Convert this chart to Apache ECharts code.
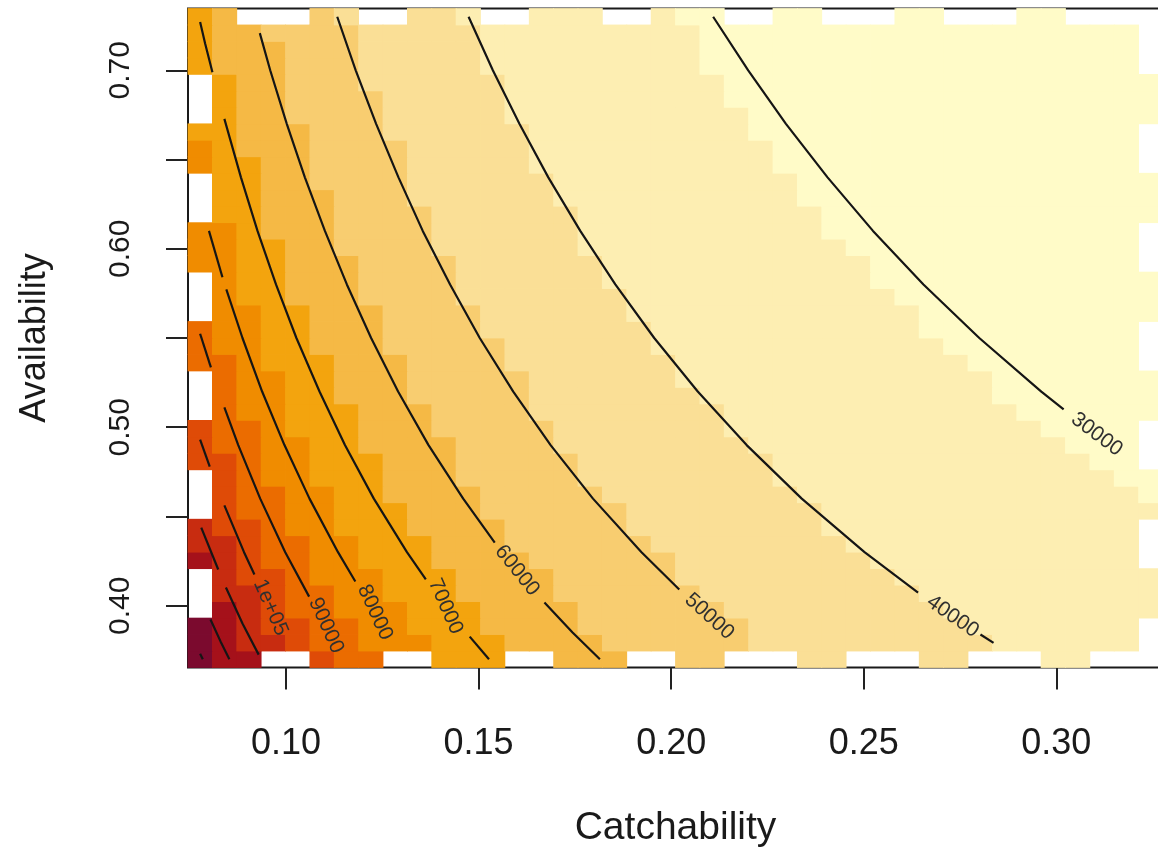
<!DOCTYPE html>
<html>
<head>
<meta charset="utf-8">
<script src="https://cdn.jsdelivr.net/npm/echarts@6/dist/echarts.min.js"></script>
<style>html,body{margin:0;padding:0;background:#ffffff}#chart{width:1158px;height:848px}</style>
</head>
<body>
<div id="chart"></div>
<script>
// ---- grid of the image (cell centres) ----
const catchability = [0.07772,0.08405,0.09038,0.09671,0.10303,0.10936,0.11569,0.12202,0.12835,0.13468,
  0.14100,0.14733,0.15366,0.15999,0.16632,0.17265,0.17897,0.18530,0.19163,0.19796,
  0.20429,0.21062,0.21694,0.22327,0.22960,0.23593,0.24226,0.24859,0.25492,0.26124,
  0.26757,0.27390,0.28023,0.28656,0.29289,0.29921,0.30554,0.31187,0.31820,0.32453];
const availability = [0.37,0.37923,0.38846,0.39769,0.40692,0.41615,0.42538,0.43462,0.44385,0.45308,
  0.46231,0.47154,0.48077,0.49,0.49923,0.50846,0.51769,0.52692,0.53615,0.54538,
  0.55462,0.56385,0.57308,0.58231,0.59154,0.60077,0.61,0.61923,0.62846,0.63769,
  0.64692,0.65615,0.66538,0.67462,0.68385,0.69308,0.70231,0.71154,0.72077,0.73];

// colour classes, lightest (0) to darkest (11)
const classColors = ['#FFFBC8','#FDEEB2','#FADF96','#F8CD70','#F5B945','#F3A40E',
  '#F08C00','#EB6C00','#DF4B07','#C82C10','#A5111A','#7B0A2E'];

// per availability row (bottom to top): number of cells from the left that are in class >= k, k = 1..11
const classBreaks = [
  [40,34,24,18,13,10,8,6,4,3,1],[40,33,23,17,13,10,7,5,4,2,1],[40,32,23,16,12,9,7,5,3,2,1],
  [40,31,22,16,12,9,6,4,3,2,1],[40,30,21,15,11,8,6,4,3,1,0],[40,29,20,15,11,8,5,4,2,1,0],
  [40,28,20,14,10,7,5,3,2,1,0],[40,27,19,13,10,7,5,3,2,0,0],[40,26,18,13,9,6,4,3,1,0,0],
  [40,26,18,12,9,6,4,2,1,0,0],[39,25,17,12,8,6,4,2,1,0,0],[38,24,16,11,8,5,3,2,1,0,0],
  [37,24,16,11,8,5,3,2,0,0,0],[36,23,15,11,7,5,3,1,0,0,0],[35,22,15,10,7,4,3,1,0,0,0],
  [34,22,14,10,7,4,2,1,0,0,0],[33,21,14,9,6,4,2,1,0,0,0],[33,20,14,9,6,4,2,0,0,0,0],
  [32,20,13,9,6,3,2,0,0,0,0],[31,19,13,8,5,3,1,0,0,0,0],[30,19,12,8,5,3,1,0,0,0,0],
  [30,18,12,8,5,3,1,0,0,0,0],[29,18,11,7,4,2,1,0,0,0,0],[28,17,11,7,4,2,1,0,0,0,0],
  [28,17,11,7,4,2,0,0,0,0,0],[27,16,10,6,4,2,0,0,0,0,0],[26,16,10,6,3,2,0,0,0,0,0],
  [26,16,10,6,3,1,0,0,0,0,0],[25,15,9,6,3,1,0,0,0,0,0],[25,15,9,5,3,1,0,0,0,0,0],
  [24,14,9,5,3,1,0,0,0,0,0],[24,14,9,5,2,1,0,0,0,0,0],[23,14,8,5,2,0,0,0,0,0,0],
  [23,13,8,4,2,0,0,0,0,0,0],[22,13,8,4,2,0,0,0,0,0,0],[22,13,7,4,2,0,0,0,0,0,0],
  [21,12,7,4,1,0,0,0,0,0,0],[21,12,7,4,1,0,0,0,0,0,0],[21,12,7,3,1,0,0,0,0,0,0],
  [20,11,6,3,1,0,0,0,0,0,0]];

// missing (NA) cells on the border: '1' = drawn, '0' = missing
const bottomRowCells = '1110011100111001110011000110001100011000';
const topRowCells    = '1100011001110011100111001100011000110000';
const leftColCells   = '1110001110001110001110001110001110001111';
const rightColCells  = '0001110001110001110001110001110001110000';

// ---- contour lines: [catchability, availability] points, one array per visible piece ----
const contour30000 = [[[0.2109,0.73],[0.2200,0.70],[0.2298,0.67],[0.2406,0.64],[0.2524,0.61],[0.2655,0.58],[0.2800,0.55],[0.2961,0.52],[0.3019,0.51]]];
const contour40000 = [[[0.1474,0.73],[0.1537,0.70],[0.1606,0.67],[0.1681,0.64],[0.1764,0.61],[0.1855,0.58],[0.1956,0.55],[0.2069,0.52],[0.2196,0.49],[0.2339,0.46],[0.2502,0.43],[0.2641,0.4074]],
  [[0.2803,0.3839],[0.2837,0.3792]]];
const contour50000 = [[[0.1133,0.73],[0.1181,0.70],[0.1234,0.67],[0.1292,0.64],[0.1355,0.61],[0.1426,0.58],[0.1503,0.55],[0.1590,0.52],[0.1687,0.49],[0.1797,0.46],[0.1923,0.43],[0.2021,0.4091]]];
const contour60000 = [[[0.0932,0.7208],[0.0959,0.70],[0.1002,0.67],[0.1049,0.64],[0.1101,0.61],[0.1158,0.58],[0.1221,0.55],[0.1291,0.52],[0.1370,0.49],[0.1460,0.46],[0.1542,0.4354]],
  [[0.1671,0.4018],[0.1744,0.385],[0.1815,0.37]]];
const contour70000 = [[[0.0777,0.7271],[0.0790,0.715],[0.0809,0.6989]],
  [[0.0840,0.6728],[0.0883,0.64],[0.0926,0.61],[0.0974,0.58],[0.1027,0.55],[0.1087,0.52],[0.1153,0.49],[0.1228,0.46],[0.1314,0.43],[0.1363,0.4147]],
  [[0.1477,0.3827],[0.1527,0.37]]];
const contour80000 = [[[0.0800,0.61],[0.0835,0.584]],
  [[0.0845,0.5772],[0.0887,0.55],[0.0938,0.52],[0.0996,0.49],[0.1061,0.46],[0.1135,0.43],[0.1180,0.4136]]];
const contour90000 = [[[0.0777,0.5524],[0.0805,0.5335]],
  [[0.0840,0.5111],[0.0876,0.49],[0.0933,0.46],[0.0998,0.43],[0.1060,0.4051]]];
const contour100000 = [[[0.0777,0.4931],[0.0802,0.478]],
  [[0.0840,0.4562],[0.0891,0.43],[0.0918,0.4175]]];
const contour110000 = [[[0.0780,0.4438],[0.0824,0.4203]],
  [[0.0844,0.4102],[0.0887,0.39],[0.0929,0.3726]]];
const contour120000 = [[[0.0804,0.3923],[0.0830,0.38],[0.0853,0.37]]];
const contour130000 = [[[0.0777,0.3731],[0.0784,0.37]]];

// contour labels: text and centre position
const labelText = ['30000','40000','50000','60000','70000','80000','90000','1e+05'];
const labelQ    = [0.3105,0.2731,0.2099,0.1600,0.1414,0.1231,0.1104,0.0960];
const labelA    = [0.4960,0.3940,0.3940,0.4197,0.3996,0.3962,0.3889,0.3990];
const labelOf   = [contour30000,contour40000,contour50000,contour60000,contour70000,contour80000,contour90000,contour100000];

// axes
const xTicks = [0.10,0.15,0.20,0.25,0.30];
const yTicks = [0.40,0.45,0.50,0.55,0.60,0.65,0.70];
const yLabelValues = [0.40,0.50,0.60,0.70];

// ---------------------------------------------------------------
function edges(c){
  const e=[c[0]-(c[1]-c[0])/2];
  for(let i=1;i<c.length;i++) e.push((c[i-1]+c[i])/2);
  e.push(c[c.length-1]+(c[c.length-1]-c[c.length-2])/2);
  return e;
}
const xe = edges(catchability), ye = edges(availability);
const nX = catchability.length, nY = availability.length;

const cells = [];
for (let r=0;r<nY;r++){
  for (let c=0;c<nX;c++){
    if (r===0 && bottomRowCells[c]==='0') continue;
    if (r===nY-1 && topRowCells[c]==='0') continue;
    if (c===0 && leftColCells[r]==='0') continue;
    if (c===nX-1 && rightColCells[r]==='0') continue;
    let lev=0;
    for (let k=0;k<classBreaks[r].length;k++){ if (c<classBreaks[r][k]) lev=k+1; }
    cells.push([catchability[c],availability[r],lev,c,r]);
  }
}

const series = [];
series.push({
  type:'custom', coordinateSystem:'cartesian2d', silent:true, animation:false, z:2,
  encode:{x:0,y:1}, data:cells,
  renderItem:function(params,api){
    const c=api.value(3), r=api.value(4);
    const p0=api.coord([xe[c],ye[r+1]]), p1=api.coord([xe[c+1],ye[r]]);
    return {type:'rect', shape:{x:p0[0]-0.4,y:p0[1]-0.4,width:p1[0]-p0[0]+0.8,height:p1[1]-p0[1]+0.8},
      style:{fill:classColors[api.value(2)]}};
  }
});

const allContours=[contour30000,contour40000,contour50000,contour60000,contour70000,contour80000,contour90000,contour100000,contour110000,contour120000,contour130000];
allContours.forEach(function(ct){
  ct.forEach(function(seg){
    series.push({type:'line', data:seg, showSymbol:false, symbol:'none', silent:true, animation:false, z:5,
      lineStyle:{color:'#151515', width:2.2}});
  });
});

const labelData = labelText.map(function(t,i){
  const ct=labelOf[i]; const seg=ct[0]; const prev=seg[seg.length-1];
  return [labelQ[i],labelA[i],prev[0],prev[1],i];
});
series.push({
  type:'custom', coordinateSystem:'cartesian2d', silent:true, animation:false, z:6,
  encode:{x:0,y:1}, data:labelData,
  renderItem:function(params,api){
    const p=api.coord([api.value(0),api.value(1)]);
    const q=api.coord([api.value(2),api.value(3)]);
    const ang=Math.atan2(p[1]-q[1],p[0]-q[0]);
    return {type:'text', x:p[0], y:p[1], rotation:-ang,
      style:{text:labelText[api.value(4)], fill:'#303030', fontSize:21, fontFamily:'Liberation Sans, Arial, sans-serif',
        align:'center', verticalAlign:'middle'}};
  }
});

const chart = echarts.init(document.getElementById('chart'), null, {renderer:'canvas'});
chart.setOption({
  backgroundColor:'#ffffff',
  animation:false,
  textStyle:{fontFamily:'Liberation Sans, Arial, sans-serif'},
  grid:{left:188, top:8.5, width:975, height:659, outerBoundsMode:'none', containLabel:false,
    show:true, borderColor:'#1a1a1a', borderWidth:2, backgroundColor:'transparent'},
  xAxis:{type:'value', min:xe[0], max:xe[nX], 
    axisLine:{show:false}, splitLine:{show:false},
    axisTick:{show:true, customValues:xTicks, length:22, lineStyle:{color:'#222', width:2}},
    axisLabel:{show:true, customValues:xTicks, margin:59, fontSize:36, color:'#1a1a1a', formatter:function(v){return v.toFixed(2);}},
    name:'Catchability', nameLocation:'middle', nameGap:141, nameTextStyle:{fontSize:39, color:'#1a1a1a'}},
  yAxis:{type:'value', min:ye[0], max:ye[nY],
    axisLine:{show:false}, splitLine:{show:false},
    axisTick:{show:true, customValues:yTicks, length:22, lineStyle:{color:'#222', width:2}},
    axisLabel:{show:true, customValues:yLabelValues, rotate:90, margin:52, fontSize:30, color:'#1a1a1a', formatter:function(v){return v.toFixed(2);}},
    name:'Availability', nameLocation:'middle', nameGap:135, nameRotate:90, nameTextStyle:{fontSize:36, color:'#1a1a1a'}},
  series:series
});
</script>
</body>
</html>
